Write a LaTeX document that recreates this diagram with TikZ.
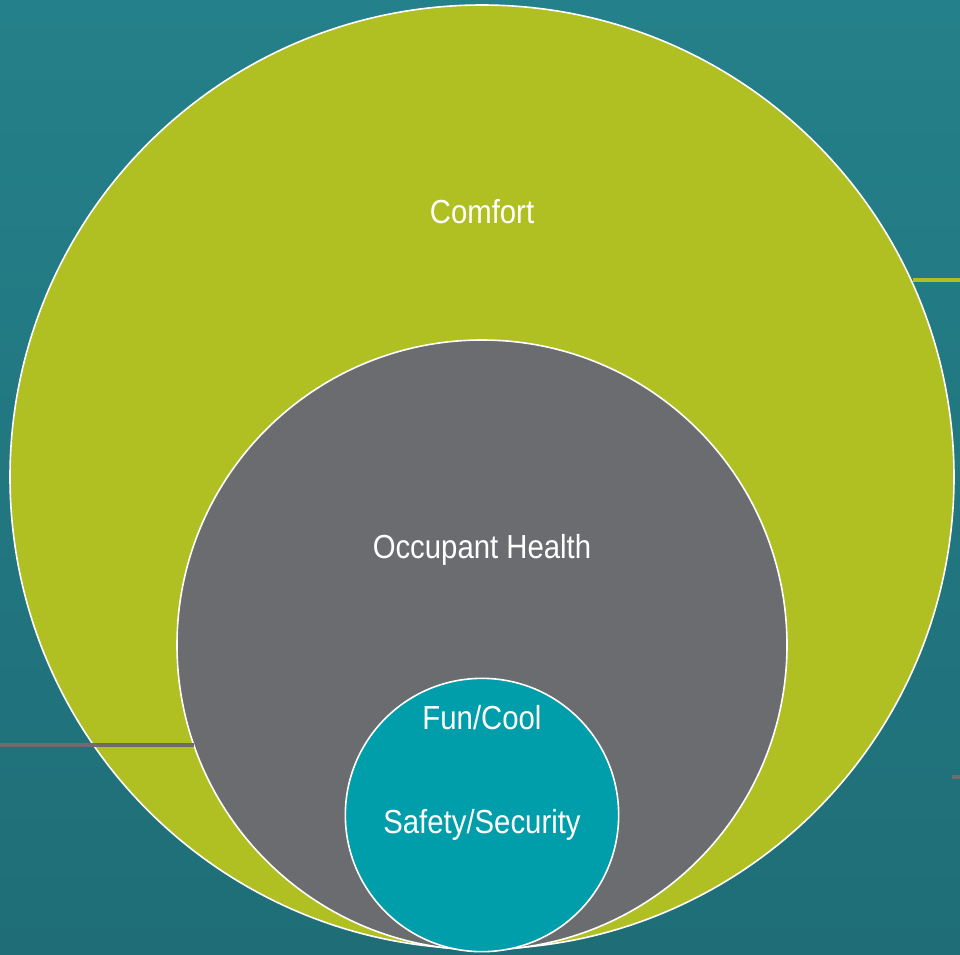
\documentclass[tikz,border=0pt]{standalone}
\usepackage{fontspec}
\setmainfont[FakeStretch=0.88]{Liberation Sans}
\begin{document}
\definecolor{bgtop}{HTML}{24808A}
\definecolor{bgbot}{HTML}{1F6E77}
\definecolor{lime}{HTML}{B0BF22}
\definecolor{slate}{HTML}{6B6C70}
\definecolor{aqua}{HTML}{009DAA}
\definecolor{rule}{HTML}{6F6B6E}
\begin{tikzpicture}[x=0.75pt,y=-0.75pt,
  ring/.style={circle,draw=white,line width=1.2pt,inner sep=0pt,outer sep=0pt},
  label/.style={text=white,font=\fontsize{25pt}{28pt}\selectfont,inner sep=0pt},
  tick/.style={line width=3pt}]
  % backdrop
  \shade[top color=bgtop,bottom color=bgbot] (0,0) rectangle (960,954);
  \useasboundingbox (0,0) rectangle (960,954);
  % free ends of the side rules
  \coordinate (leftend) at (0,745);
  \coordinate (rightend) at (960,280);
  \coordinate (rtickA) at (952,777);
  \coordinate (rtickB) at (960,777);
  % nested rings
  \node[ring,fill=lime,minimum size=708pt] (comfort) at (482,477) {};
  \node[ring,fill=slate,minimum size=457.5pt] (health) at (482,645) {};
  \node[ring,fill=aqua,minimum size=205pt] (safety) at (482,815) {};
  % side rules, kept level
  \draw[tick,draw=rule] (leftend) -- (leftend -| health.199.1);
  \draw[tick,draw=lime] (rightend -| comfort.24.7) -- (rightend);
  \draw[tick,draw=rule] (rtickA) -- (rtickB);
  % labels
  \node[label] (tcomfort) at (482,212) {Comfort};
  \node[label] (thealth) at (482,550) {Occupant Health};
  \node[label] (tfun) at (482,718) {Fun/Cool};
  \node[label] (tsafe) at (482,825) {Safety/Security};
\end{tikzpicture}
\end{document}
